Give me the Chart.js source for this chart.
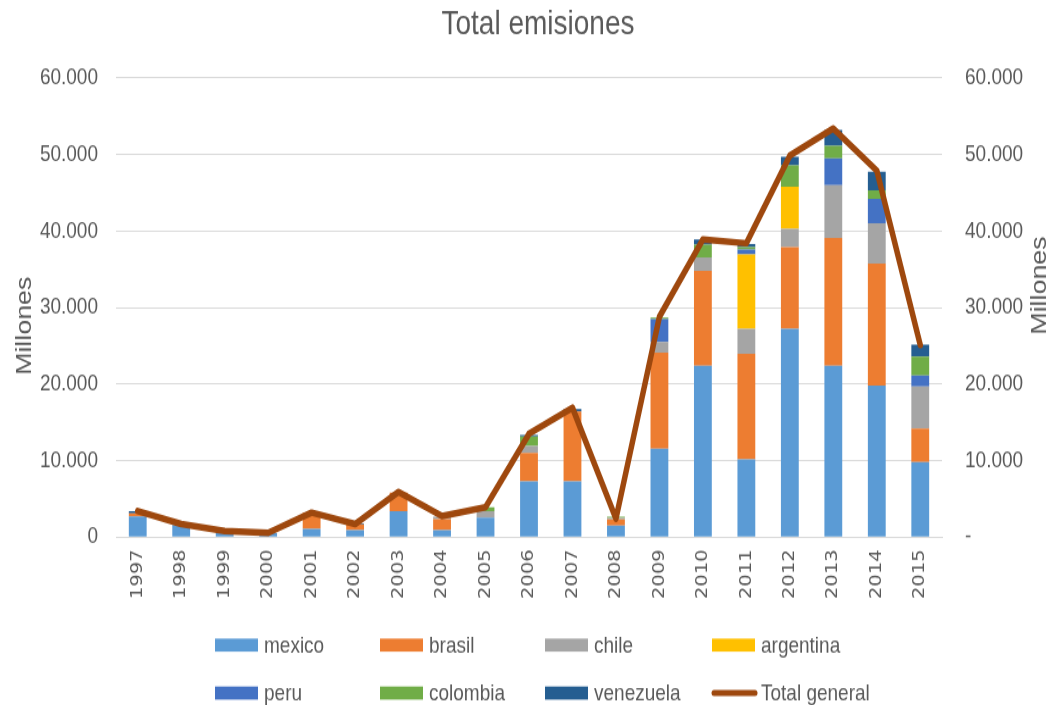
<!DOCTYPE html>
<html>
<head>
<meta charset="utf-8">
<title>Total emisiones</title>
<script src="https://cdn.jsdelivr.net/npm/chart.js@4.4.1/dist/chart.umd.min.js"></script>
<style>
  html { overflow: hidden; }
  html, body { margin: 0; padding: 0; background: #fff; height: 705px; }
  /* the reference is stretched vertically, so the whole chart is too */
  #wrap { width: 1055px; height: 578px; transform: scaleY(1.22); transform-origin: 0 0; }
  #emisionesChart { width: 1055px; height: 578px; display: block; }
</style>
</head>
<body>
<div id="wrap"><canvas id="emisionesChart" width="1055" height="578"></canvas></div>
<script>
// values in Millones
const years = ['1997','1998','1999','2000','2001','2002','2003','2004','2005','2006',
               '2007','2008','2009','2010','2011','2012','2013','2014','2015'];

const mexico    = [2700, 1600,  600, 500, 1050,  900, 3400,  900, 2550,  7300,  7300, 1500, 11550, 22400, 10150, 27200, 22400, 19800,  9800];
const brasil    = [ 400,    0,    0,   0, 2150,  750, 2400, 1450,    0,  3700,  9100,  800, 12550, 12400, 13800, 10700, 16700, 15950,  4400];
const chile     = [   0,    0,  150,   0,    0,    0,    0,  300,  850,   900,     0,  200,  1400,  1750,  3250,  2400,  6900,  5250,  5500];
const argentina = [   0,    0,    0,   0,    0,    0,    0,    0,    0,     0,     0,    0,     0,     0,  9750,  5500,     0,     0,     0];
const peru      = [   0,    0,    0,   0,    0,    0,    0,    0,    0,     0,     0,    0,  3000,     0,   650,     0,  3500,  3200,  1400];
const colombia  = [   0,    0,    0,   0,    0,    0,    0,    0,  500,  1250,     0,  150,   200,  1650,   300,  2800,  1650,  1100,  2500];
const venezuela = [ 300,    0,    0,   0,    0,  150,    0,    0,    0,   200,   350,    0,     0,   700,   400,  1100,  2050,  2450,  1550];
const totalGeneral = [3400, 1700, 800, 550, 3200, 1700, 5900, 2750, 3900, 13500, 16900, 2400, 28800, 38900, 38400, 49850, 53400, 47900, 25100];

const countryNames  = ['mexico', 'brasil', 'chile', 'argentina', 'peru', 'colombia', 'venezuela'];
const countryValues = [mexico, brasil, chile, argentina, peru, colombia, venezuela];
const countryColors = ['#5B9BD5', '#ED7D31', '#A5A5A5', '#FFC000', '#4472C4', '#70AD47', '#255E91'];
const lineColor = '#9E480E';
const textColor = '#595959';
const gridColor = '#D9D9D9';

const fmt = v => Number(v).toLocaleString('de-DE');

// title, axis titles and the 4-column legend are drawn by hand
const extrasPlugin = {
    id: 'extras',
    afterDraw(chart) {
        const ctx = chart.ctx;
        ctx.save();
        ctx.fillStyle = textColor;

        ctx.font = '28px "Liberation Sans", Arial, sans-serif';
        ctx.textAlign = 'center';
        ctx.textBaseline = 'alphabetic';
        ctx.fillText('Total emisiones', 538, 28);

        ctx.font = '22px "Liberation Sans", Arial, sans-serif';
        ctx.textBaseline = 'middle';
        [[25, 267], [1040, 234]].forEach(([x, y]) => {
            ctx.save();
            ctx.translate(x, y);
            ctx.rotate(-Math.PI / 2);
            ctx.fillText('Millones', 0, 0);
            ctx.restore();
        });

        const cols = [215, 380, 545, 712];
        const rows = [528.7, 568];
        ctx.font = '19px "Liberation Sans", Arial, sans-serif';
        ctx.textAlign = 'left';
        chart.data.datasets.forEach((ds, i) => {
            const x = cols[i % 4];
            const y = rows[Math.floor(i / 4)];
            if (ds.type === 'line') {
                ctx.strokeStyle = ds.borderColor;
                ctx.lineWidth = 5;
                ctx.lineCap = 'round';
                ctx.beginPath();
                ctx.moveTo(x + 2, y);
                ctx.lineTo(x + 43, y);
                ctx.stroke();
            } else {
                ctx.fillStyle = ds.backgroundColor;
                ctx.fillRect(x, y - 5.3, 43, 10.7);
            }
            ctx.fillStyle = textColor;
            ctx.fillText(ds.label, x + 49, y + 1);
        });
        ctx.restore();
    }
};

const datasets = countryNames.map((name, i) => ({
    type: 'bar',
    label: name,
    data: countryValues[i],
    backgroundColor: countryColors[i],
    yAxisID: 'y',
    order: 1,
    barPercentage: 0.41,
    categoryPercentage: 1
}));

datasets.push({
    type: 'line',
    label: 'Total general',
    data: totalGeneral,
    borderColor: lineColor,
    backgroundColor: lineColor,
    borderWidth: 5.5,
    pointRadius: 0,
    tension: 0,
    borderJoinStyle: 'round',
    borderCapStyle: 'round',
    yAxisID: 'y2',
    order: 0
});

new Chart(document.getElementById('emisionesChart'), {
    type: 'bar',
    data: { labels: years, datasets: datasets },
    options: {
        responsive: false,
        maintainAspectRatio: false,
        animation: false,
        layout: { padding: { top: 63.9, left: 0, right: 0, bottom: 0 } },
        plugins: {
            legend: { display: false },
            title: { display: false },
            tooltip: { enabled: false }
        },
        scales: {
            x: {
                stacked: true,
                grid: { display: false, drawTicks: false },
                border: { display: true, color: gridColor, width: 1 },
                ticks: {
                    color: textColor,
                    font: { family: '"DejaVu Sans", sans-serif', size: 16 },
                    minRotation: 90,
                    maxRotation: 90,
                    padding: 10,
                    autoSkip: false
                },
                afterFit: s => { s.height = 137.8; }
            },
            y: {
                position: 'left',
                stacked: true,
                min: 0,
                max: 60000,
                ticks: {
                    stepSize: 10000,
                    color: textColor,
                    padding: 18,
                    font: { family: '"Liberation Sans", Arial, sans-serif', size: 19 },
                    callback: v => v === 0 ? '0' : fmt(v)
                },
                grid: { color: gridColor, lineWidth: 1, drawTicks: false },
                border: { display: false },
                afterFit: s => { s.width = 116; }
            },
            y2: {
                position: 'right',
                min: 0,
                max: 60000,
                ticks: {
                    stepSize: 10000,
                    color: textColor,
                    padding: 23,
                    font: { family: '"Liberation Sans", Arial, sans-serif', size: 19 },
                    callback: v => v === 0 ? '-' : fmt(v)
                },
                grid: { display: false, drawTicks: false },
                border: { display: false },
                afterFit: s => { s.width = 113; }
            }
        }
    },
    plugins: [extrasPlugin]
});
</script>
</body>
</html>
